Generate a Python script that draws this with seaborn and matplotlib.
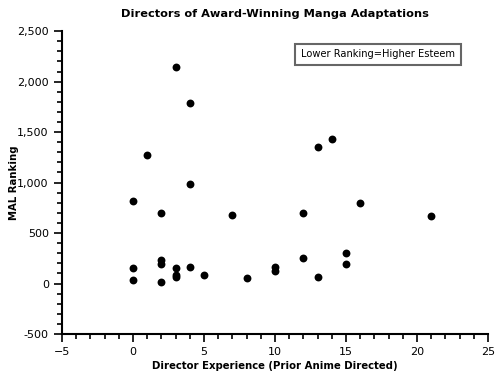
import matplotlib
matplotlib.use('Agg')
import matplotlib.pyplot as plt
from matplotlib.ticker import MultipleLocator, FuncFormatter
import seaborn as sns
import pandas as pd

# Experiencia do diretor (animes anteriores) x ranking MAL
experiencia = [0, 0, 0, 1, 2, 2, 2, 2, 3, 3, 3, 3, 4, 4, 4, 5, 7, 8,
               10, 10, 12, 12, 13, 13, 14, 15, 15, 16, 21]
ranking = [815, 152, 36, 1275, 702, 233, 198, 16, 2148, 150, 82, 64,
           1791, 988, 166, 84, 680, 56, 160, 128, 702, 256, 1357, 64,
           1427, 306, 196, 802, 673]

df = pd.DataFrame({'experiencia': experiencia, 'ranking': ranking})

sns.set_style('white')
plt.rcParams['font.family'] = ['DejaVu Sans']
plt.rcParams['text.color'] = 'black'
plt.rcParams['axes.labelcolor'] = 'black'

fig = plt.figure(figsize=(5, 3.8), dpi=100)
ax = fig.add_axes([0.124, 0.121, 0.852, 0.797])

sns.scatterplot(data=df, x='experiencia', y='ranking', color='black',
                s=32, edgecolor='black', linewidth=0, ax=ax)

ax.set_xlim(-5, 25)
ax.set_ylim(-500, 2500)
ax.xaxis.set_major_locator(MultipleLocator(5))
ax.xaxis.set_minor_locator(MultipleLocator(1))
ax.yaxis.set_major_locator(MultipleLocator(500))
ax.yaxis.set_minor_locator(MultipleLocator(100))
ax.yaxis.set_major_formatter(FuncFormatter(lambda v, p: f'{int(v):,}'))

for lado in ['top', 'right']:
    ax.spines[lado].set_visible(False)
for lado in ['left', 'bottom']:
    ax.spines[lado].set_linewidth(1.5)
    ax.spines[lado].set_color('black')

ax.tick_params(which='major', length=6, width=1.2, labelsize=8, colors='black')
ax.tick_params(which='minor', length=3.8, width=1.2, colors='black')
ax.tick_params(axis='both', which='both', direction='out', left=True, bottom=True)

ax.set_title('Directors of Award-Winning Manga Adaptations', fontsize=8.2,
             fontweight='bold', pad=10, color='black')
ax.set_xlabel('Director Experience (Prior Anime Directed)', fontsize=7.3,
              fontweight='bold')
ax.set_ylabel('MAL Ranking', fontsize=7.3, fontweight='bold')
ax.xaxis.set_label_coords(0.5, -0.088)
ax.yaxis.set_label_coords(-0.1, 0.5)

ax.text(0.742, 0.923, 'Lower Ranking=Higher Esteem', transform=ax.transAxes,
        ha='center', va='center', fontsize=7.1,
        bbox=dict(boxstyle='square,pad=0.6', facecolor='white',
                  edgecolor='#666666', linewidth=1.5))

fig.savefig('out.png', dpi=100)
